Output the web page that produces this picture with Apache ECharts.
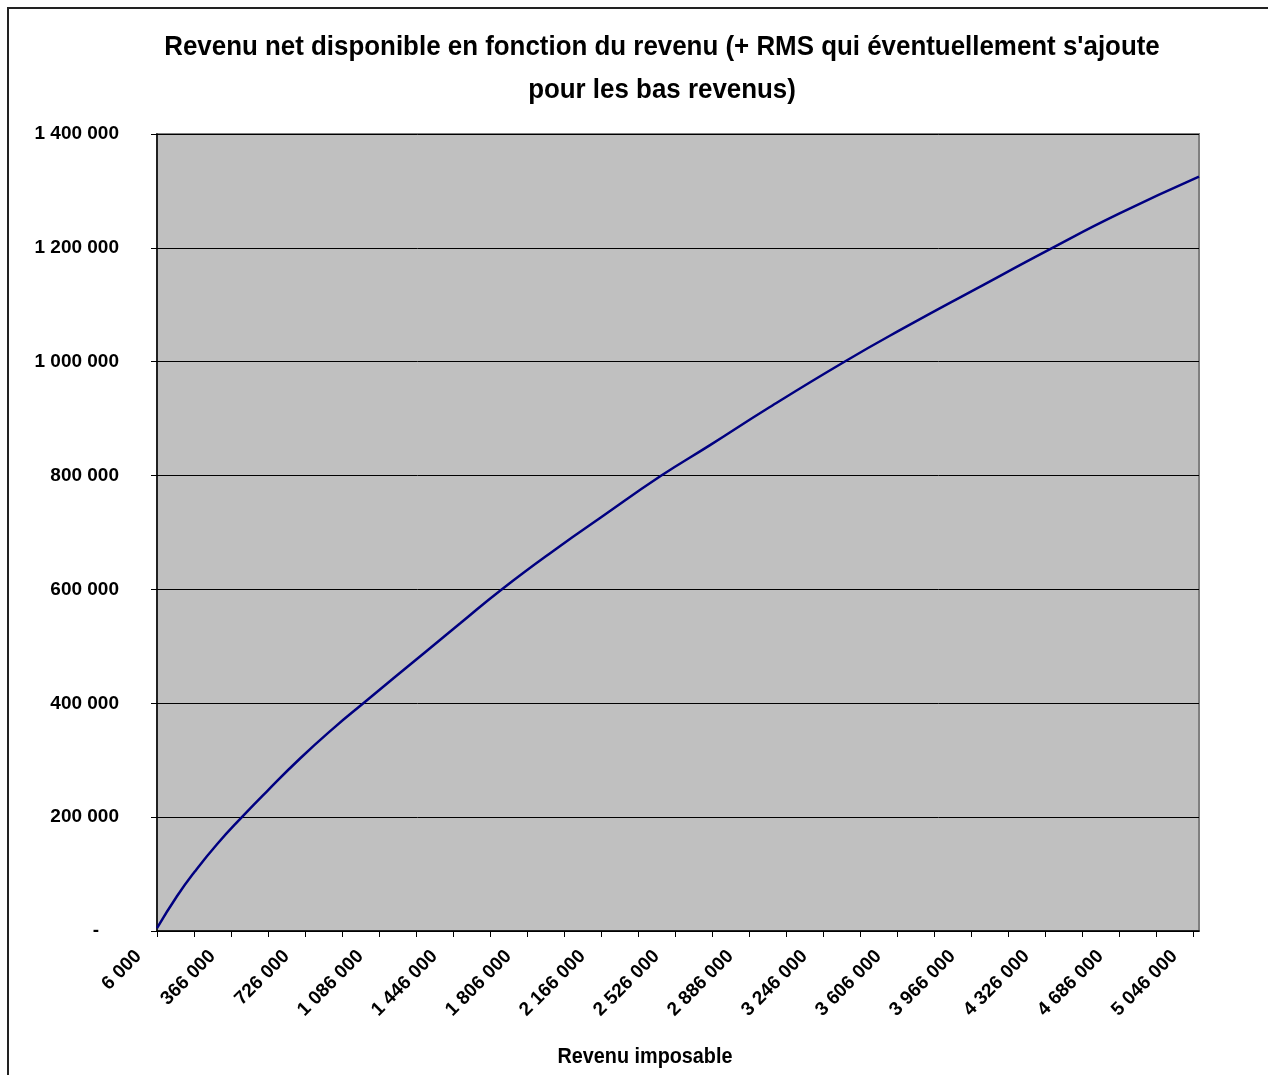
<!DOCTYPE html>
<html>
<head>
<meta charset="utf-8">
<script src="https://cdn.jsdelivr.net/npm/echarts@6/dist/echarts.min.js"></script>
<style>
  html, body { margin: 0; padding: 0; background: #fff; }
  #chart { width: 1268px; height: 1075px; }
</style>
</head>
<body>
<div id="chart"></div>
<script>
// Revenu imposable (x) et revenu net disponible (y)
const revenuImposable = [6000, 103000, 189000, 297000, 419000, 540000, 702000, 864000, 1010000,
  1318000, 1480000, 1683000, 1966000, 2160000, 2460000, 2695000, 2986000, 3351000, 3634000,
  3991000, 4363000, 4687000, 5076000];
const revenuNet = [5000, 61000, 104000, 152000, 200000, 245000, 303000, 356000, 400000,
  492000, 540000, 600000, 676000, 725000, 800000, 853000, 920000, 1000000, 1058000,
  1128000, 1200000, 1260000, 1325000];

// Graduations de l'axe des abscisses
const xMin = 6000;
const xMax = 5076000;
const xTickValues = [];
for (let v = xMin; v <= 5046000; v += 180000) xTickValues.push(v);
const xLabelValues = [];
for (let v = xMin; v <= 5046000; v += 360000) xLabelValues.push(v);

const FONT = "'Liberation Sans', Arial, sans-serif";
const TITLE = "Revenu net disponible en fonction du revenu (+ RMS qui éventuellement s'ajoute\npour les bas revenus)";
const X_NAME = 'Revenu imposable';

function fmt(n) {
  return String(Math.round(n)).replace(/\B(?=(\d{3})+(?!\d))/g, ' ');
}

const chart = echarts.init(document.getElementById('chart'));
chart.setOption({
  backgroundColor: '#ffffff',
  animation: false,
  graphic: [{
    type: 'rect',
    shape: { x: 8, y: 8, width: 1400, height: 1200 },
    style: { fill: 'none', stroke: '#222', lineWidth: 2 },
    silent: true
  }, {
    type: 'text',
    x: 662, y: 69,
    scaleX: 0.925,
    style: {
      text: TITLE, textAlign: 'center', textVerticalAlign: 'middle',
      fontFamily: FONT, fontSize: 28, fontWeight: 'bold', fill: '#000', lineHeight: 43
    },
    silent: true
  }, {
    type: 'text',
    x: 645, y: 1057,
    scaleX: 0.9,
    style: {
      text: X_NAME, textAlign: 'center', textVerticalAlign: 'middle',
      fontFamily: FONT, fontSize: 22, fontWeight: 'bold', fill: '#000'
    },
    silent: true
  }],
  grid: {
    left: 157, top: 134, right: 69, bottom: 144,
    show: true, backgroundColor: '#C0C0C0', borderColor: '#808080', borderWidth: 2
  },
  xAxis: {
    type: 'value',
    min: xMin,
    max: xMax,
    axisLine: { show: true, lineStyle: { color: '#000', width: 1.5 } },
    axisTick: { show: true, length: 6, customValues: xTickValues, lineStyle: { color: '#000' } },
    splitLine: { show: false },
    axisLabel: {
      customValues: xLabelValues,
      rotate: 45,
      margin: 4,
      padding: [0, 26, 0, 0],
      fontFamily: FONT, fontSize: 19, fontWeight: 'bold', color: '#000',
      formatter: v => fmt(v)
    }
  },
  yAxis: {
    type: 'value',
    min: 0,
    max: 1400000,
    interval: 200000,
    axisLine: { show: true, lineStyle: { color: '#000', width: 1.5 } },
    axisTick: { show: true, length: 6, lineStyle: { color: '#000' } },
    splitLine: { show: true, lineStyle: { color: '#000', width: 1 } },
    axisLabel: {
      margin: 38,
      fontFamily: FONT, fontSize: 19, fontWeight: 'bold', color: '#000',
      formatter: v => v === 0 ? '{d|-}' : fmt(v),
      rich: { d: { fontFamily: FONT, fontSize: 19, fontWeight: 'bold', padding: [0, 20, 0, 0] } }
    }
  },
  series: [{
    type: 'line',
    data: revenuImposable.map((x, i) => [x, revenuNet[i]]),
    showSymbol: false,
    smooth: true,
    lineStyle: { color: '#000080', width: 2.5 },
    itemStyle: { color: '#000080' }
  }]
});
</script>
</body>
</html>
